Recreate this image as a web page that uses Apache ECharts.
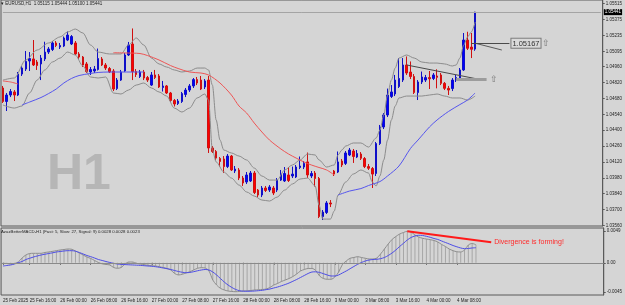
<!DOCTYPE html>
<html>
<head>
<meta charset="utf-8">
<script src="https://cdn.jsdelivr.net/npm/echarts/dist/echarts.min.js"></script>
<style>
    html, body{margin:0; padding:0; background:#d5d5d5;}
    #ChartMain{width:625px; height:305px;}
</style>
</head>
<body>
<div id="ChartMain"></div>
<script type="text/javascript">
// EURUSD H1, 25 Feb 09:00 .. 4 Mar 13:00, one row per bar: [open, close, low, high]
var candles = [
    [1.04772,1.04653,1.04640,1.04790],[1.04653,1.04710,1.04569,1.04728],[1.04710,1.04741,1.04692,1.04763],[1.04737,1.04710,1.04657,1.04754],[1.04710,1.04895,1.04701,1.04913],
    [1.04895,1.04948,1.04878,1.04966],[1.04939,1.05006,1.04922,1.05098],[1.05010,1.05032,1.04922,1.05089],[1.05028,1.04975,1.04966,1.05195],[1.05001,1.04970,1.04931,1.05019],
    [1.04984,1.05036,1.04842,1.05063],[1.05028,1.05089,1.05010,1.05180],[1.05089,1.05116,1.05072,1.05133],[1.05111,1.05169,1.05098,1.05186],[1.05169,1.05147,1.05133,1.05186],
    [1.05133,1.05147,1.05116,1.05169],[1.05142,1.05213,1.05133,1.05226],[1.05195,1.05239,1.05186,1.05270],[1.05160,1.05226,1.05151,1.05239],[1.05169,1.05072,1.05063,1.05186],
    [1.05072,1.05045,1.05028,1.05089],[1.05045,1.04975,1.04957,1.05054],[1.04984,1.04917,1.04904,1.05001],[1.04913,1.04935,1.04887,1.04957],[1.04922,1.04939,1.04904,1.04966],
    [1.04935,1.05032,1.04926,1.05120],[1.05028,1.04975,1.04966,1.05045],[1.04975,1.04948,1.04931,1.04992],[1.04944,1.04913,1.04904,1.04957],[1.04922,1.04763,1.04745,1.04939],
    [1.04767,1.04842,1.04754,1.04860],[1.04842,1.04913,1.04834,1.04931],[1.04922,1.05063,1.04913,1.05081],[1.05063,1.05151,1.05054,1.05178],[1.05160,1.04917,1.04842,1.05297],
    [1.04917,1.04891,1.04869,1.04939],[1.04873,1.04913,1.04860,1.04931],[1.04913,1.04860,1.04842,1.04931],[1.04864,1.04842,1.04825,1.04878],[1.04798,1.04887,1.04790,1.04913],
    [1.04887,1.04864,1.04851,1.04931],[1.04878,1.04781,1.04772,1.04895],[1.04776,1.04790,1.04741,1.04834],[1.04790,1.04728,1.04719,1.04798],[1.04728,1.04662,1.04648,1.04737],
    [1.04662,1.04631,1.04609,1.04675],[1.04635,1.04657,1.04622,1.04675],[1.04653,1.04723,1.04640,1.04737],[1.04715,1.04754,1.04692,1.04772],[1.04754,1.04790,1.04737,1.04807],
    [1.04790,1.04846,1.04772,1.04860],[1.04846,1.04816,1.04798,1.04869],[1.04842,1.04763,1.04754,1.04878],[1.04781,1.04834,1.04763,1.04851],[1.04842,1.04243,1.04199,1.04878],
    [1.04243,1.04212,1.04199,1.04260],[1.04212,1.04154,1.04137,1.04225],[1.04150,1.04124,1.04079,1.04163],[1.04146,1.04079,1.04022,1.04172],[1.04079,1.04172,1.04066,1.04190],
    [1.04172,1.04049,1.04040,1.04181],[1.04040,1.04057,1.04022,1.04084],[1.04049,1.03978,1.03960,1.04066],[1.03978,1.03934,1.03908,1.03996],[1.03943,1.04005,1.03925,1.04031],
    [1.03952,1.04022,1.03943,1.04040],[1.04022,1.03850,1.03837,1.04040],[1.03872,1.03828,1.03810,1.03881],[1.03828,1.03890,1.03810,1.03908],[1.03890,1.03868,1.03855,1.03908],
    [1.03872,1.03899,1.03855,1.03916],[1.03890,1.03846,1.03828,1.03908],[1.03872,1.03960,1.03855,1.03978],[1.03960,1.04013,1.03952,1.04049],[1.03952,1.04018,1.03943,1.04075],
    [1.04005,1.03956,1.03943,1.04075],[1.03996,1.04013,1.03978,1.04079],[1.03987,1.04075,1.03978,1.04093],[1.04071,1.04084,1.04057,1.04168],[1.04075,1.04107,1.04057,1.04128],
    [1.04120,1.04005,1.03978,1.04203],[1.03996,1.04018,1.03978,1.04040],[1.04022,1.03974,1.03903,1.04040],[1.03974,1.03638,1.03625,1.03987],[1.03638,1.03678,1.03608,1.03696],
    [1.03674,1.03758,1.03661,1.03775],[1.03758,1.03749,1.03722,1.03784],[1.04040,1.04013,1.03996,1.04049],[1.04031,1.04120,1.04022,1.04212],[1.04128,1.04093,1.04075,1.04146],
    [1.04107,1.04199,1.04093,1.04216],[1.04181,1.04225,1.04172,1.04243],[1.04216,1.04168,1.04111,1.04234],[1.04163,1.04194,1.04154,1.04225],[1.04190,1.04152,1.04137,1.04207],
    [1.04150,1.04079,1.04066,1.04163],[1.04079,1.04064,1.04049,1.04102],[1.04062,1.04013,1.03890,1.04075],[1.04018,1.04282,1.03996,1.04296],[1.04282,1.04428,1.04269,1.04446],
    [1.04428,1.04534,1.04410,1.04551],[1.04534,1.04710,1.04516,1.04767],[1.04697,1.04737,1.04684,1.04798],[1.04719,1.04842,1.04701,1.04887],[1.04785,1.04856,1.04772,1.05036],
    [1.04842,1.04975,1.04825,1.05036],[1.04975,1.04904,1.04887,1.05050],[1.04913,1.04873,1.04851,1.05006],[1.04873,1.04732,1.04719,1.04895],[1.04732,1.04825,1.04666,1.04842],
    [1.04825,1.04869,1.04807,1.04917],[1.04842,1.04864,1.04825,1.04887],[1.04864,1.04853,1.04763,1.04922],[1.04856,1.04887,1.04842,1.04904],[1.04878,1.04866,1.04769,1.04937],
    [1.04887,1.04813,1.04798,1.04904],[1.04813,1.04769,1.04754,1.04825],[1.04769,1.04754,1.04710,1.04790],[1.04767,1.04842,1.04745,1.04860],[1.04842,1.04864,1.04825,1.04887],
    [1.04856,1.04931,1.04842,1.04948],[1.04931,1.05195,1.04922,1.05257],[1.05195,1.05122,1.05107,1.05268],[1.05133,1.05113,1.05036,1.05257],[1.05115,1.05441,1.05100,1.05444]
];

// bands and moving average, [bar, price]
var upperBand = [[0,1.04842],[3,1.04860],[6,1.05019],[9,1.05107],[12,1.05169],[15,1.05222],[17,1.05266],[19,1.05292],[21,1.05257],[23,1.05151],[25,1.05089],[28,1.05072],[31,1.05072],[33,1.05151],[35,1.05213],[37,1.05151],[39,1.05036],[41,1.04984],[43,1.04957],[45,1.04931],[47,1.04913],[49,1.04922],[51,1.04948],[53,1.04948],[54,1.04931],[55,1.04798],[56,1.04490],[57,1.04313],[58,1.04225],[60,1.04199],[62,1.04172],[64,1.04137],[66,1.04066],[68,1.03996],[70,1.03960],[72,1.03960],[74,1.04049],[76,1.04093],[78,1.04137],[80,1.04190],[82,1.04181],[83,1.04137],[85,1.04075],[87,1.04093],[88,1.04181],[89,1.04225],[90,1.04260],[92,1.04287],[94,1.04287],[96,1.04251],[98,1.04331],[99,1.04401],[100,1.04534],[101,1.04710],[102,1.04842],[103,1.04948],[104,1.05036],[106,1.05063],[108,1.05036],[110,1.05001],[112,1.04992],[114,1.04992],[116,1.04984],[118,1.04966],[119,1.04975],[120,1.05036],[121,1.05151],[122,1.05222],[123,1.05266],[124,1.05354]];
var lowerBand = [[0,1.04622],[3,1.04595],[5,1.04613],[7,1.04728],[9,1.04842],[11,1.04931],[13,1.05001],[15,1.05036],[17,1.05089],[19,1.05063],[21,1.04966],[23,1.04869],[25,1.04860],[27,1.04869],[29,1.04728],[31,1.04719],[33,1.04754],[35,1.04798],[37,1.04816],[39,1.04772],[41,1.04737],[43,1.04701],[45,1.04595],[47,1.04560],[49,1.04595],[51,1.04684],[53,1.04719],[54,1.04666],[55,1.04225],[56,1.04120],[58,1.04031],[60,1.03978],[62,1.03916],[64,1.03855],[66,1.03819],[68,1.03784],[70,1.03775],[72,1.03810],[74,1.03872],[76,1.03925],[78,1.03969],[80,1.03978],[82,1.03908],[83,1.03740],[84,1.03616],[86,1.03616],[87,1.03687],[88,1.03828],[90,1.03943],[92,1.04013],[94,1.04049],[96,1.04022],[97,1.03943],[98,1.03908],[99,1.03996],[100,1.04137],[101,1.04313],[102,1.04490],[103,1.04613],[104,1.04684],[106,1.04701],[108,1.04701],[110,1.04701],[112,1.04710],[114,1.04719],[116,1.04701],[118,1.04684],[120,1.04684],[122,1.04666],[124,1.04701]];
var maRedA = [[0,1.04834],[2,1.04825],[4,1.04807]];
var maRedB = [[29,1.05083],[32,1.05081],[36,1.05076],[38,1.05058],[41,1.05019],[44,1.04970],[46,1.04944],[49,1.04913],[52,1.04904],[54,1.04887],[57,1.04816],[60,1.04710],[62,1.04613],[64,1.04551],[66,1.04463],[68,1.04384],[70,1.04313],[73,1.04234],[75,1.04190],[77,1.04154],[79,1.04120],[81,1.04093],[83,1.04071],[85,1.04049],[87,1.04005]];
var maBlueA = [[5,1.04622],[7,1.04648],[10,1.04688],[12,1.04723],[14,1.04763],[16,1.04816],[18,1.04856],[20,1.04882],[23,1.04900],[25,1.04909],[28,1.04913],[31,1.04913],[34,1.04913],[37,1.04913]];
var maBlueB = [[88,1.03828],[91,1.03863],[94,1.03885],[96,1.03912],[99,1.03947],[101,1.03996],[104,1.04084],[107,1.04238],[109,1.04313],[112,1.04428],[114,1.04490],[117,1.04565],[120,1.04626],[122,1.04666],[124,1.04728]];

// MACD sub window, one value per bar
var macdMain = [-0.00008,-0.00011,-0.00019,-0.00011,0.00012,0.00074,0.00121,0.00144,0.00147,0.00147,
    0.00147,0.00160,0.00168,0.00178,0.00188,0.00199,0.00206,0.00214,0.00210,0.00183,
    0.00152,0.00121,0.00090,0.00067,0.00036,0.00005,-0.00016,-0.00026,-0.00034,-0.00073,
    -0.00085,-0.00073,-0.00019,0.00012,0.00012,-0.00008,-0.00019,-0.00029,-0.00039,-0.00045,
    -0.00050,-0.00061,-0.00073,-0.00088,-0.00112,-0.00166,-0.00189,-0.00178,-0.00158,-0.00138,
    -0.00112,-0.00085,-0.00076,-0.00081,-0.00127,-0.00267,-0.00345,-0.00396,-0.00422,-0.00438,
    -0.00445,-0.00449,-0.00445,-0.00438,-0.00435,-0.00430,-0.00422,-0.00419,-0.00414,-0.00407,
    -0.00383,-0.00345,-0.00321,-0.00290,-0.00267,-0.00244,-0.00213,-0.00174,-0.00127,-0.00104,
    -0.00088,-0.00088,-0.00120,-0.00205,-0.00244,-0.00256,-0.00256,-0.00220,-0.00143,-0.00026,
    0.00028,0.00070,0.00082,0.00095,0.00082,0.00070,0.00059,0.00059,0.00074,0.00137,
    0.00214,0.00292,0.00362,0.00408,0.00447,0.00470,0.00490,0.00478,0.00431,0.00400,
    0.00380,0.00369,0.00359,0.00346,0.00323,0.00284,0.00253,0.00214,0.00188,0.00171,
    0.00168,0.00199,0.00276,0.00300,0.00279];
var macdSignal = [-0.00050,-0.00042,-0.00034,-0.00019,0.00002,0.00020,0.00051,0.00070,0.00090,0.00106,
    0.00121,0.00133,0.00144,0.00155,0.00168,0.00175,0.00183,0.00188,0.00188,0.00180,
    0.00160,0.00137,0.00113,0.00095,0.00074,0.00051,0.00036,0.00020,0.00005,-0.00008,
    -0.00019,-0.00025,-0.00028,-0.00031,-0.00034,-0.00037,-0.00040,-0.00045,-0.00050,-0.00054,
    -0.00061,-0.00070,-0.00081,-0.00092,-0.00104,-0.00120,-0.00135,-0.00147,-0.00154,-0.00150,
    -0.00138,-0.00124,-0.00112,-0.00104,-0.00112,-0.00143,-0.00189,-0.00244,-0.00298,-0.00345,
    -0.00383,-0.00414,-0.00433,-0.00441,-0.00442,-0.00441,-0.00438,-0.00433,-0.00427,-0.00417,
    -0.00407,-0.00391,-0.00376,-0.00357,-0.00337,-0.00314,-0.00287,-0.00259,-0.00228,-0.00197,
    -0.00166,-0.00143,-0.00140,-0.00150,-0.00169,-0.00189,-0.00205,-0.00205,-0.00189,-0.00158,
    -0.00127,-0.00092,-0.00057,-0.00023,0.00005,0.00028,0.00043,0.00051,0.00054,0.00064,
    0.00082,0.00113,0.00152,0.00199,0.00253,0.00303,0.00354,0.00393,0.00416,0.00427,
    0.00424,0.00411,0.00396,0.00377,0.00362,0.00338,0.00315,0.00292,0.00268,0.00248,
    0.00230,0.00219,0.00222,0.00230,0.00234];

// tick labels
var xTicks = [[0,'25 Feb 2025'],[7,'25 Feb 16:00'],[15,'26 Feb 00:00'],[23,'26 Feb 08:00'],[31,'26 Feb 16:00'],[39,'27 Feb 00:00'],[47,'27 Feb 08:00'],[55,'27 Feb 16:00'],[63,'28 Feb 00:00'],[71,'28 Feb 08:00'],[79,'28 Feb 16:00'],[87,'3 Mar 00:00'],[95,'3 Mar 08:00'],[103,'3 Mar 16:00'],[111,'4 Mar 00:00'],[119,'4 Mar 08:00']];
var priceTicks = [1.05515,1.05375,1.05235,1.05095,1.04960,1.04820,1.04680,1.04540,1.04400,1.04260,1.04120,1.03980,1.03840,1.03700,1.03560];
var macdTicks = [0.0049, 0, -0.0045];

// drawn objects: [bar, price, bar, price]
var bidLine = [0, 1.05441, 157, 1.05441];
var trendLine = [106, 1.04975, 126, 1.04842];
var levelLine = [119, 1.04851, 127, 1.04851];
var targetLine = [123, 1.05167, 133, 1.05167];
var slopeLine = [124, 1.05167, 131, 1.05107];
var divergence = [106, 0.0049, 128, 0.0032];

var SLOTS = 158;
var cats = [];
for (var i = 0; i < SLOTS; i++) cats.push(String(i));
var tickMap = {};
xTicks.forEach(function (t) { tickMap[t[0]] = t[1]; });
function isTick(idx) { return tickMap.hasOwnProperty(idx); }

var FONT = '"Liberation Sans", Arial, sans-serif';
var small = {fontSize: 4.5, color: '#1e1e1e', fontFamily: FONT};

function seg(a, style, label) {
    return [
        {coord: [a[0], a[1]], lineStyle: style, label: label || {show: false}},
        {coord: [a[2], a[3]]}
    ];
}

var myChart = echarts.init(document.getElementById('ChartMain'));
var option = {
    animation: false,
    backgroundColor: '#d5d5d5',
    title: [
        {text: '\u25BE EURUSD,H1  1.05115 1.05444 1.05100 1.05441', left: 1, top: 1.5, padding: 0,
            textStyle: {fontSize: 4.5, fontWeight: 'normal', color: '#1e1e1e', fontFamily: FONT}},
        {text: 'AzazBetterMACD-H1 (Fast: 5, Slow: 27, Signal: 9) 0.0028 0.0028 0.0023', left: 1, top: 229.5, padding: 0,
            textStyle: {fontSize: 4.3, fontWeight: 'normal', color: '#1e1e1e', fontFamily: FONT}}
    ],
    graphic: [{
        type: 'text', left: 47, top: 150, z: 0, silent: true,
        style: {text: 'H1', fill: '#b6b6b6', font: 'bold 50px "Liberation Sans", Arial, sans-serif'}
    }],
    grid: [
        {left: 1, right: 21, top: 0, height: 226, show: true, borderColor: '#5a5a5a', borderWidth: 1, backgroundColor: 'transparent'},
        {left: 1, right: 21, top: 228, height: 67, show: true, borderColor: '#5a5a5a', borderWidth: 1, backgroundColor: 'transparent'}
    ],
    xAxis: [
        {type: 'category', gridIndex: 0, data: cats, boundaryGap: true,
            axisLine: {show: false}, axisTick: {show: false}, axisLabel: {show: false}, splitLine: {show: false}},
        {type: 'category', gridIndex: 1, data: cats, boundaryGap: true,
            axisLine: {show: false},
            axisTick: {show: true, alignWithLabel: true, length: 2, interval: isTick, lineStyle: {color: '#5a5a5a'}},
            axisLabel: Object.assign({interval: isTick, align: 'left', margin: 3,
                formatter: function (v, idx) { return tickMap[idx] || ''; }}, small),
            splitLine: {show: false}}
    ],
    yAxis: [
        {type: 'value', gridIndex: 0, position: 'right', min: 1.03555, max: 1.05548, scale: true,
            splitLine: {show: false},
            axisLine: {show: true, lineStyle: {color: '#5a5a5a'}},
            axisTick: {show: true, length: 2, customValues: priceTicks, lineStyle: {color: '#5a5a5a'}},
            axisLabel: Object.assign({customValues: priceTicks, margin: 3,
                formatter: function (v) { return v.toFixed(5); }}, small)},
        {type: 'value', gridIndex: 1, position: 'right', min: -0.0050, max: 0.0054,
            splitLine: {show: false},
            axisLine: {show: true, lineStyle: {color: '#5a5a5a'}},
            axisTick: {show: true, length: 2, customValues: macdTicks, lineStyle: {color: '#5a5a5a'}},
            axisLabel: Object.assign({customValues: macdTicks, margin: 3,
                formatter: function (v) { return v === 0 ? '0.00' : String(v); }}, small)}
    ],
    series: [
        {type: 'line', name: 'upper', data: upperBand, showSymbol: false, smooth: 0.3, smoothMonotone: 'x',
            lineStyle: {color: '#8c8c8c', width: 1}},
        {type: 'line', name: 'lower', data: lowerBand, showSymbol: false, smooth: 0.3, smoothMonotone: 'x',
            lineStyle: {color: '#8c8c8c', width: 1}},
        {type: 'line', name: 'ma', data: maRedA, showSymbol: false, smooth: 0.3, lineStyle: {color: '#ee5555', width: 1}},
        {type: 'line', name: 'ma', data: maRedB, showSymbol: false, smooth: 0.3, lineStyle: {color: '#ee5555', width: 1}},
        {type: 'line', name: 'ma', data: maBlueA, showSymbol: false, smooth: 0.3, lineStyle: {color: '#5555ee', width: 1}},
        {type: 'line', name: 'ma', data: maBlueB, showSymbol: false, smooth: 0.3, lineStyle: {color: '#5555ee', width: 1}},
        {
            type: 'candlestick', name: 'EURUSD', data: candles, barWidth: 2,
            itemStyle: {color: '#0000ff', color0: '#ff0000', borderColor: '#1010c8', borderColor0: '#d01010', borderWidth: 1},
            markLine: {
                silent: true, symbol: ['none', 'none'], animation: false,
                data: [
                    seg(bidLine, {color: '#a4a4a4', width: 1, type: 'solid'},
                        {show: true, position: 'end', distance: 3, formatter: '1.05441', color: '#fff',
                            backgroundColor: '#000', padding: [1, 1, 0, 1], fontSize: 4.5, fontFamily: FONT}),
                    seg(trendLine, {color: '#4a4a4a', width: 1, type: 'solid'}),
                    seg(slopeLine, {color: '#5a5a5a', width: 1, type: 'solid'}),
                    seg(levelLine, {color: '#9c9c9c', width: 3, type: 'solid'},
                        {show: true, position: 'end', distance: 3, formatter: '\u21E7', color: '#777', fontSize: 9}),
                    seg(targetLine, {color: '#4a4a4a', width: 1, type: 'solid'},
                        {show: true, position: 'end', distance: 2, formatter: '{b|1.05167}{a|\u21E7}',
                            rich: {
                                b: {fontSize: 7.5, color: '#333', fontFamily: FONT, backgroundColor: '#d9d9d9',
                                    borderColor: '#7a7a7a', borderWidth: 1, padding: [1, 1, 0, 1]},
                                a: {fontSize: 9, color: '#777', padding: [0, 0, 0, 1]}
                            }})
                ]
            }
        },
        {type: 'bar', name: 'hist', xAxisIndex: 1, yAxisIndex: 1, data: macdMain, barWidth: 1,
            itemStyle: {color: '#a6a6a6'},
            markLine: {silent: true, symbol: ['none', 'none'], label: {show: false},
                lineStyle: {color: '#8a8a8a', width: 1, type: 'solid'}, data: [{yAxis: 0}]}},
        {type: 'line', name: 'macd', xAxisIndex: 1, yAxisIndex: 1, data: macdMain, showSymbol: false, smooth: 0.3,
            lineStyle: {color: '#8e8e8e', width: 1}},
        {type: 'line', name: 'signal', xAxisIndex: 1, yAxisIndex: 1, data: macdSignal, showSymbol: false, smooth: 0.3,
            lineStyle: {color: '#4d4de6', width: 1},
            markLine: {
                silent: true, symbol: ['none', 'none'],
                data: [seg(divergence, {color: '#ff1a1a', width: 2, type: 'solid'},
                    {show: true, position: 'end', distance: 3, formatter: 'Divergence is forming!',
                        color: '#ff2a2a', fontSize: 7, fontFamily: FONT})]
            }}
    ]
};
myChart.setOption(option);
</script>
</body>
</html>
